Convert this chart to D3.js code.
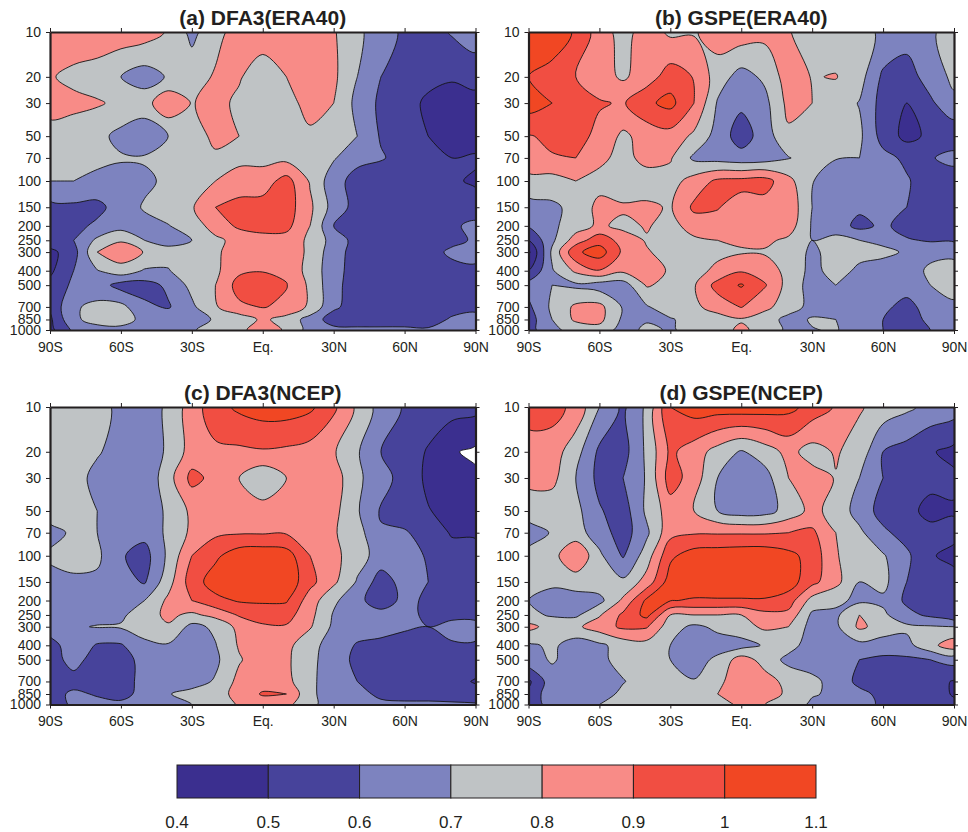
<!DOCTYPE html>
<html><head><meta charset="utf-8">
<script src="https://cdn.jsdelivr.net/npm/d3@7"></script>
<style>html,body{margin:0;padding:0;background:#fff}svg{display:block}text{font-family:"Liberation Sans",Arial,sans-serif;fill:#231f20}</style>
</head><body><svg id="c" width="968" height="832"></svg>
<script>
const lats=[-90,-80,-70,-60,-50,-40,-30,-20,-10,0,10,20,30,40,50,60,70,80,90];
const levels=[10,20,30,50,70,100,150,200,250,300,400,500,700,850,1000];
const latTicks=[-90,-60,-30,0,30,60,90];
const latLabels=["90S","60S","30S","Eq.","30N","60N","90N"];
const thresholds=[0.4,0.5,0.6,0.7,0.8,0.9,1.0];
const legendTicks=["0.4","0.5","0.6","0.7","0.8","0.9","1","1.1"];
const bandColors=["#3b2f8f","#47439b","#7d83bf","#bfc3c5","#f88b87","#f14e42","#f14723"];
const titles=["(a) DFA3(ERA40)","(b) GSPE(ERA40)","(c) DFA3(NCEP)","(d) GSPE(NCEP)"];
const panelA=[
[.88,.88,.87,.86,.85,.79,.67,.77,.84,.86,.86,.86,.81,.72,.65,.58,.55,.61,.66],
[.81,.77,.75,.70,.65,.71,.76,.81,.81,.74,.80,.84,.82,.70,.60,.56,.53,.51,.53],
[.84,.83,.81,.78,.76,.88,.795,.83,.78,.70,.76,.84,.80,.67,.58,.54,.48,.46,.47],
[.76,.74,.73,.67,.63,.70,.74,.83,.80,.76,.76,.78,.74,.70,.59,.55,.50,.46,.46],
[.76,.74,.72,.71,.71,.74,.76,.78,.77,.77,.77,.75,.71,.63,.61,.56,.52,.50,.51],
[.70,.70,.68,.66,.68,.72,.76,.80,.85,.85,.94,.79,.64,.56,.53,.52,.51,.51,.49],
[.57,.58,.57,.65,.71,.75,.79,.90,.93,.94,.95,.82,.66,.56,.53,.53,.53,.53,.53],
[.56,.57,.62,.66,.67,.695,.75,.84,.92,.94,.93,.80,.60,.55,.53,.53,.53,.58,.63],
[.56,.60,.72,.79,.70,.67,.70,.78,.83,.86,.86,.78,.66,.56,.53,.53,.53,.56,.62],
[.47,.56,.80,.86,.795,.73,.76,.79,.83,.86,.86,.78,.64,.56,.53,.53,.54,.63,.65],
[.48,.60,.695,.76,.69,.695,.75,.78,.88,.895,.88,.76,.64,.55,.53,.53,.53,.55,.57],
[.53,.62,.65,.56,.56,.62,.73,.80,.94,.95,.905,.78,.63,.55,.53,.53,.53,.58,.57],
[.52,.69,.72,.73,.62,.59,.68,.79,.88,.905,.88,.78,.62,.55,.53,.53,.53,.54,.57],
[.48,.69,.72,.73,.68,.67,.66,.71,.74,.82,.76,.66,.55,.53,.53,.53,.53,.62,.64],
[.47,.62,.68,.68,.63,.66,.69,.74,.78,.84,.79,.66,.63,.63,.63,.63,.62,.62,.64]];
const panelB=[
[1.05,1.05,.99,.85,.76,.85,.78,.79,.85,.86,.83,.805,.76,.74,.72,.69,.65,.69,.73],
[1.0,.97,.90,.84,.785,.85,.95,.895,.75,.66,.72,.85,.795,.805,.74,.58,.55,.65,.72],
[1.05,1.0,.94,.91,.89,.98,1.03,.90,.69,.62,.67,.83,.80,.75,.695,.56,.50,.58,.68],
[.89,.93,.94,.87,.78,.84,.86,.78,.66,.55,.65,.78,.75,.74,.72,.56,.47,.52,.52],
[.86,.89,.90,.83,.76,.84,.81,.68,.66,.64,.65,.695,.74,.705,.70,.63,.58,.59,.64],
[.77,.76,.80,.76,.70,.74,.76,.84,.92,.93,.94,.83,.705,.64,.62,.61,.61,.55,.53],
[.66,.68,.73,.83,.82,.82,.79,.92,.905,.86,.86,.87,.70,.63,.62,.61,.60,.55,.50],
[.61,.68,.75,.82,.77,.81,.76,.85,.87,.88,.87,.85,.69,.65,.57,.62,.56,.54,.53],
[.50,.68,.85,.96,.86,.79,.76,.78,.80,.815,.82,.78,.70,.73,.70,.68,.61,.59,.59],
[.38,.72,.98,1.05,.88,.81,.76,.77,.78,.79,.79,.76,.68,.74,.73,.72,.69,.67,.66],
[.50,.69,.82,.895,.82,.84,.79,.77,.82,.89,.85,.77,.67,.74,.68,.66,.65,.72,.76],
[.64,.70,.68,.65,.65,.81,.77,.79,.94,1.01,.91,.76,.66,.70,.65,.64,.64,.70,.74],
[.58,.72,.82,.83,.69,.69,.76,.78,.84,.905,.82,.76,.66,.65,.64,.62,.57,.64,.68],
[.55,.70,.82,.83,.68,.69,.69,.74,.76,.79,.76,.66,.71,.70,.66,.60,.56,.62,.67],
[.56,.68,.73,.76,.66,.72,.69,.73,.76,.82,.76,.68,.695,.71,.63,.60,.58,.60,.60]];
const panelC=[
[.77,.76,.73,.68,.64,.72,.85,.96,1.02,1.05,1.05,1.02,.92,.78,.66,.59,.56,.54,.53],
[.76,.75,.71,.66,.62,.72,.84,.88,.88,.89,.88,.86,.81,.71,.60,.56,.49,.41,.38],
[.76,.74,.67,.64,.62,.76,.93,.87,.80,.72,.80,.85,.85,.72,.64,.56,.48,.46,.42],
[.76,.74,.70,.65,.63,.72,.82,.85,.86,.84,.84,.85,.83,.71,.59,.55,.505,.47,.47],
[.66,.72,.70,.66,.63,.72,.82,.88,.89,.89,.89,.85,.81,.74,.61,.61,.56,.49,.49],
[.72,.73,.72,.61,.56,.72,.90,.98,1.06,1.07,1.05,.90,.83,.74,.66,.64,.59,.54,.53],
[.66,.685,.68,.64,.59,.76,.95,1.05,1.07,1.08,1.07,.93,.82,.69,.55,.64,.60,.55,.53],
[.66,.67,.67,.68,.70,.82,.90,.97,1.01,1.01,1.01,.85,.72,.63,.54,.63,.58,.55,.53],
[.66,.67,.67,.68,.76,.82,.78,.83,.91,.96,.94,.83,.69,.66,.64,.63,.58,.55,.54],
[.66,.69,.705,.71,.74,.79,.67,.72,.83,.88,.89,.81,.68,.65,.63,.61,.60,.66,.67],
[.55,.67,.59,.59,.68,.69,.67,.695,.81,.86,.83,.73,.66,.59,.58,.57,.56,.58,.58],
[.55,.64,.55,.55,.64,.66,.66,.68,.79,.86,.82,.72,.66,.57,.55,.55,.56,.56,.56],
[.56,.56,.56,.56,.63,.65,.66,.71,.83,.86,.83,.72,.65,.60,.56,.55,.55,.54,.49],
[.56,.62,.59,.57,.63,.695,.73,.75,.84,.91,.90,.72,.65,.63,.58,.56,.56,.57,.54],
[.54,.62,.63,.62,.64,.68,.70,.74,.81,.85,.83,.72,.66,.64,.62,.62,.62,.61,.61]];
const panelD=[
[.93,.94,.87,.70,.58,.72,1.0,1.05,1.05,1.06,1.05,1.03,.96,.89,.81,.76,.72,.67,.65],
[.87,.85,.74,.58,.56,.72,.92,.85,.76,.69,.75,.83,.76,.81,.76,.60,.56,.51,.47],
[.82,.83,.70,.57,.60,.71,.95,.85,.70,.65,.66,.80,.84,.795,.70,.60,.55,.53,.52],
[.76,.74,.73,.61,.55,.72,.85,.80,.70,.65,.66,.74,.83,.76,.66,.56,.53,.47,.49],
[.64,.71,.74,.65,.55,.68,.87,.89,.89,.89,.89,.90,.92,.80,.72,.62,.56,.53,.53],
[.74,.76,.90,.72,.59,.75,.98,1.05,1.06,1.07,1.07,1.03,.96,.81,.73,.71,.62,.51,.47],
[.72,.72,.74,.76,.72,.84,1.05,1.06,1.07,1.07,1.07,1.05,.93,.83,.70,.73,.60,.55,.54],
[.70,.66,.66,.67,.82,1.02,1.005,.99,.99,.99,.99,.95,.76,.72,.68,.68,.58,.56,.55],
[.72,.69,.68,.79,.92,1.03,.80,.80,.80,.80,.87,.87,.68,.68,.80,.72,.63,.58,.52],
[.83,.76,.78,.85,.92,.91,.74,.68,.72,.76,.82,.80,.66,.68,.82,.76,.72,.71,.70],
[.68,.72,.65,.68,.74,.76,.70,.66,.66,.66,.71,.74,.65,.67,.67,.65,.67,.77,.86],
[.66,.71,.66,.68,.73,.74,.70,.66,.72,.85,.76,.67,.66,.65,.60,.58,.58,.60,.64],
[.48,.66,.67,.66,.695,.74,.72,.705,.78,.85,.84,.77,.72,.67,.57,.55,.55,.55,.49],
[.52,.67,.66,.66,.72,.74,.76,.77,.80,.84,.85,.78,.71,.68,.63,.57,.55,.55,.49],
[.50,.67,.68,.70,.73,.75,.76,.77,.78,.81,.80,.76,.68,.66,.64,.58,.55,.58,.52]];
const panels=[panelA,panelB,panelC,panelD];
const boxes=[[50,475.5,32,330],[528.5,954,32,330],[50,475.5,407,704.5],[528.5,954,407,704.5]];

const svg=d3.select("#c");
const latLabel=d3.scaleOrdinal().domain(latTicks).range(latLabels);
const ringLine=d3.line().curve(d3.curveCatmullRomClosed.alpha(0.5));
panels.forEach((grid,p)=>{
  const [x0,x1,y0,y1]=boxes[p];
  const x=d3.scaleLinear().domain([-90,90]).range([x0,x1]);
  const y=d3.scaleLog().domain([10,1000]).range([y0,y1]);
  const nx=lats.length,ny=levels.length;
  const ix=d3.scaleLinear().domain(d3.range(nx)).range(lats.map(x));
  const iy=d3.scaleLinear().domain(d3.range(ny)).range(levels.map(y));
  const gen=d3.contours().size([nx,ny]).thresholds(thresholds).smooth(true);
  const cs=gen(grid.flat());
  const toPath=c=>c.flatMap(poly=>poly.map(ring=>ringLine(ring.slice(0,-1).map(([a,b])=>[ix(a-.5),iy(b-.5)])))).join("");
  const g=svg.append("g");
  const clipId="clip"+p;
  svg.append("clipPath").attr("id",clipId).append("rect").attr("x",x0).attr("y",y0).attr("width",x1-x0).attr("height",y1-y0);
  g.attr("clip-path",`url(#${clipId})`);
  g.append("rect").attr("x",x0).attr("y",y0).attr("width",x1-x0).attr("height",y1-y0).attr("fill","#fff");
  g.selectAll("path").data(cs).join("path")
    .attr("d",d=>toPath(d.coordinates))
    .attr("fill",(d,i)=>bandColors[i])
    .attr("stroke","#151515").attr("stroke-width",.9).attr("stroke-linejoin","round");
  const styleAxis=a=>{a.select(".domain").attr("stroke","#231f20").attr("stroke-width",2.2);
    a.selectAll(".tick line").attr("stroke","#231f20").attr("stroke-width",1);
    a.selectAll("text").attr("font-size",14).attr("fill","#231f20");};
  const xt=d3.axisBottom(x).tickValues(latTicks).tickFormat(d=>latLabel(d)).tickSize(4).tickSizeOuter(0).tickPadding(8);
  const yt=d3.axisLeft(y).tickValues(levels).tickFormat(d=>d).tickSize(4).tickSizeOuter(0).tickPadding(5);
  svg.append("g").attr("transform",`translate(0,${y1})`).call(xt).call(styleAxis);
  svg.append("g").attr("transform",`translate(${x0},0)`).call(yt).call(styleAxis);
  svg.append("g").attr("transform",`translate(0,${y0})`).call(d3.axisTop(x).tickValues(latTicks).tickFormat("").tickSize(4).tickSizeOuter(0)).call(styleAxis);
  svg.append("g").attr("transform",`translate(${x1},0)`).call(d3.axisRight(y).tickValues(levels).tickFormat("").tickSize(4).tickSizeOuter(0)).call(styleAxis);
  svg.append("text").attr("x",(x0+x1)/2).attr("y",y0-7).attr("text-anchor","middle")
    .attr("font-size",21).attr("font-weight","bold").text(titles[p]);
});
// legend
const lx=d3.scalePoint().domain(legendTicks).range([177,816]);
const lg=svg.append("g");
lg.selectAll("rect").data(bandColors).join("rect")
  .attr("x",(d,i)=>lx(legendTicks[i])).attr("width",(d,i)=>lx(legendTicks[i+1])-lx(legendTicks[i]))
  .attr("y",765).attr("height",33).attr("fill",d=>d).attr("stroke","#231f20").attr("stroke-width",1);
lg.selectAll("text").data(legendTicks).join("text")
  .attr("x",d=>lx(d)).attr("y",828).attr("text-anchor","middle").attr("font-size",17).text(d=>d);
</script></body></html>
